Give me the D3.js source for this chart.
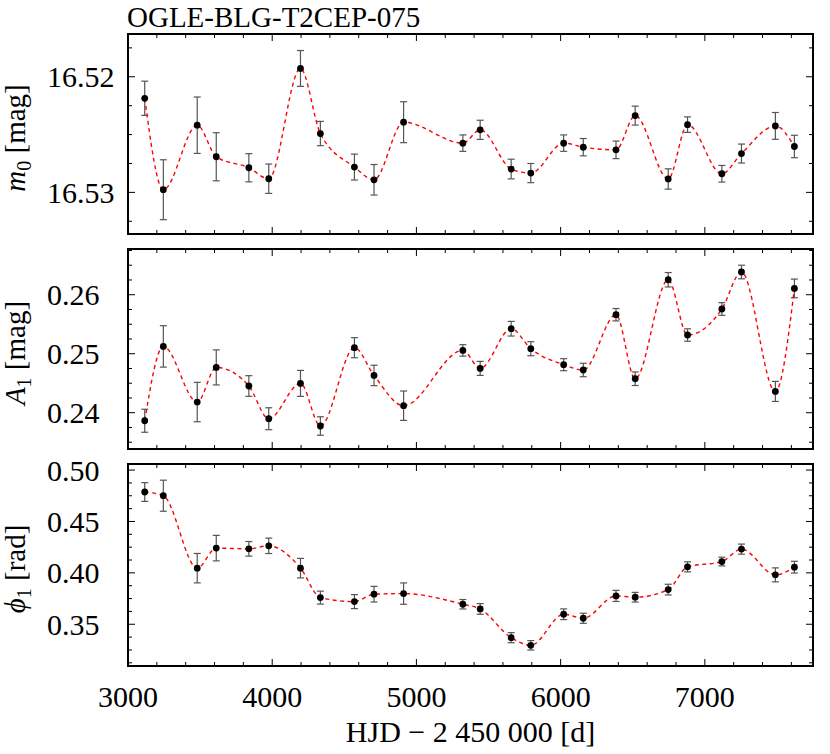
<!DOCTYPE html>
<html>
<head>
<meta charset="utf-8">
<script src="https://cdn.jsdelivr.net/npm/d3@7"></script>
<style>
  html, body { margin: 0; padding: 0; background: #fff; }
  svg text { font-family: "Liberation Serif", "Times New Roman", serif; fill: #000; }
</style>
</head>
<body>
<svg id="chart" width="830" height="754"></svg>
<script>
const title = "OGLE-BLG-T2CEP-075";
const hjd = [3116, 3245, 3480, 3612, 3838, 3976, 4196, 4334, 4570, 4706, 4911, 5322, 5442,
             5657, 5793, 6021, 6157, 6384, 6517, 6746, 6880, 7118, 7254, 7489, 7621];
const m0 = [16.52186, 16.52977, 16.52419, 16.52692, 16.52787, 16.52882, 16.51928, 16.52491,
            16.52781, 16.52891, 16.52393, 16.52574, 16.52459, 16.52798, 16.52833, 16.52574,
            16.52609, 16.52632, 16.52336, 16.52884, 16.52414, 16.52839, 16.52664, 16.52425, 16.52603];
const m0Err = [0.00148, 0.00259, 0.00244, 0.00208, 0.00122, 0.00127, 0.00155, 0.00105, 0.00112,
               0.00132, 0.00177, 0.00071, 0.00083, 0.00085, 0.00083, 0.00071, 0.00075, 0.00076,
               0.00082, 0.00088, 0.00067, 0.00072, 0.00082, 0.00116, 0.00097];
const a1 = [0.23864, 0.25124, 0.24181, 0.24768, 0.24453, 0.23898, 0.24497, 0.23775, 0.25102,
            0.24632, 0.24119, 0.25056, 0.24751, 0.25424, 0.25085, 0.24814, 0.24724, 0.25661,
            0.24576, 0.26254, 0.25317, 0.25758, 0.26385, 0.24361, 0.26107];
const a1Err = [0.00195, 0.00351, 0.00334, 0.00297, 0.00175, 0.00186, 0.0022, 0.00156, 0.0017,
               0.00173, 0.00249, 0.00097, 0.00119, 0.00124, 0.00119, 0.00102, 0.00114, 0.00105,
               0.00115, 0.00122, 0.00105, 0.00107, 0.00115, 0.0017, 0.00158];
const phi1 = [0.47865, 0.47505, 0.40458, 0.42407, 0.42339, 0.42632, 0.40458, 0.37593, 0.37203,
              0.37924, 0.37982, 0.36949, 0.36491, 0.33694, 0.32953, 0.35975, 0.35585, 0.37758,
              0.37632, 0.38372, 0.40585, 0.41101, 0.4231, 0.39805, 0.40556];
const phi1Err = [0.0091, 0.0151, 0.0143, 0.0124, 0.0071, 0.0075, 0.0095, 0.0063, 0.0068, 0.0076,
                 0.0104, 0.0046, 0.0052, 0.0049, 0.0046, 0.0052, 0.0049, 0.0054, 0.0047, 0.0052,
                 0.0049, 0.0042, 0.0049, 0.0068, 0.0057];
const xTicks = [3000, 4000, 5000, 6000, 7000];
const m0Ticks = [16.52, 16.53];
const a1Ticks = [0.24, 0.25, 0.26];
const phi1Ticks = [0.35, 0.40, 0.45, 0.50];

const FS = 30;
const svg = d3.select("#chart");
const left = 128, right = 813;
const x = d3.scaleLinear().domain([3000, 7750]).range([left, right]);

const panels = [
  { vals: m0, errs: m0Err, top: 34, bottom: 234, domain: [16.5163, 16.5336], invert: true,
    major: m0Ticks, minorStep: 0.0025, fmt: d3.format(".2f"), label: "m0" },
  { vals: a1, errs: a1Err, top: 249, bottom: 449, domain: [0.23385, 0.26775], invert: false,
    major: a1Ticks, minorStep: 0.0025, fmt: d3.format(".2f"), label: "A1" },
  { vals: phi1, errs: phi1Err, top: 464, bottom: 666, domain: [0.3094, 0.5059], invert: false,
    major: phi1Ticks, minorStep: 0.0125, fmt: d3.format(".2f"), label: "phi1" }
];

const xMinor = d3.range(3000, 7750, 200);

panels.forEach(p => {
  const y = d3.scaleLinear().domain(p.domain)
    .range(p.invert ? [p.top, p.bottom] : [p.bottom, p.top]);
  const g = svg.append("g");
  const lo = Math.min(...p.domain), hi = Math.max(...p.domain);
  const yMinor = [];
  for (let v = Math.ceil(lo / p.minorStep - 1e-6) * p.minorStep; v <= hi + 1e-9; v += p.minorStep) yMinor.push(v);
  const isMajor = v => p.major.some(m => Math.abs(m - v) < 1e-7);

  xMinor.forEach(v => {
    const len = xTicks.includes(v) ? 7 : 4;
    g.append("line").attr("x1", x(v)).attr("x2", x(v))
      .attr("y1", p.bottom).attr("y2", p.bottom - len).attr("stroke", "#000").attr("stroke-width", 1);
    g.append("line").attr("x1", x(v)).attr("x2", x(v))
      .attr("y1", p.top).attr("y2", p.top + len).attr("stroke", "#000").attr("stroke-width", 1);
  });
  yMinor.forEach(v => {
    const len = isMajor(v) ? 7 : 4;
    g.append("line").attr("x1", left).attr("x2", left + len)
      .attr("y1", y(v)).attr("y2", y(v)).attr("stroke", "#000").attr("stroke-width", 1);
    g.append("line").attr("x1", right).attr("x2", right - len)
      .attr("y1", y(v)).attr("y2", y(v)).attr("stroke", "#000").attr("stroke-width", 1);
  });
  p.major.forEach(v => {
    g.append("text").attr("x", 47).attr("y", y(v)).attr("dy", "0.35em")
      .attr("font-size", FS).text(p.fmt(v));
  });

  const eb = g.append("g").attr("stroke", "#555").attr("stroke-width", 1.2);
  hjd.forEach((h, i) => {
    const cx = x(h), y1 = y(p.vals[i] - p.errs[i]), y2 = y(p.vals[i] + p.errs[i]);
    eb.append("line").attr("x1", cx).attr("x2", cx).attr("y1", y1).attr("y2", y2);
    eb.append("line").attr("x1", cx - 3.5).attr("x2", cx + 3.5).attr("y1", y1).attr("y2", y1);
    eb.append("line").attr("x1", cx - 3.5).attr("x2", cx + 3.5).attr("y1", y2).attr("y2", y2);
  });

  const line = d3.line().x((d, i) => x(hjd[i])).y(d => y(d)).curve(d3.curveMonotoneX);
  g.append("path").attr("d", line(p.vals)).attr("fill", "none")
    .attr("stroke", "#ff0000").attr("stroke-width", 1.4).attr("stroke-dasharray", "4,3.5");

  g.selectAll("circle.pt").data(p.vals).enter().append("circle")
    .attr("cx", (d, i) => x(hjd[i])).attr("cy", d => y(d)).attr("r", 3.4).attr("fill", "#000");

  g.append("rect").attr("x", left).attr("y", p.top).attr("width", right - left)
    .attr("height", p.bottom - p.top).attr("fill", "none").attr("stroke", "#000").attr("stroke-width", 2);

  const cy = (p.top + p.bottom) / 2 + 4;
  const t = g.append("text").attr("transform", `translate(25,${cy}) rotate(-90)`)
    .attr("text-anchor", "middle").attr("font-size", 29);
  const sym = p.label === "m0" ? ["m", "0", " [mag]"] : p.label === "A1" ? ["A", "1", " [mag]"] : ["ϕ", "1", " [rad]"];
  t.append("tspan").attr("font-style", "italic").text(sym[0]);
  t.append("tspan").attr("font-size", 20).attr("dy", 6).text(sym[1]);
  t.append("tspan").attr("dy", -6).text(sym[2]);
});

xTicks.forEach(v => {
  svg.append("text").attr("x", x(v)).attr("y", 707).attr("text-anchor", "middle")
    .attr("font-size", FS).text(v);
});
svg.append("text").attr("x", (left + right) / 2).attr("y", 742).attr("text-anchor", "middle")
  .attr("font-size", FS).text("HJD − 2 450 000 [d]");
svg.append("text").attr("x", 127).attr("y", 27).attr("font-size", 29).text(title);
</script>
</body>
</html>
